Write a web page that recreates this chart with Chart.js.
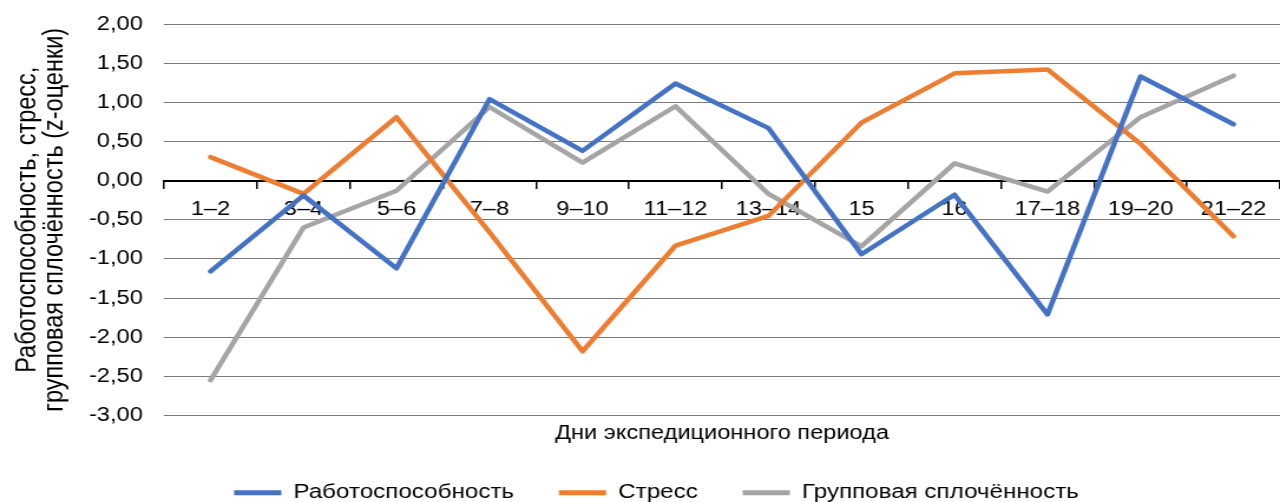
<!DOCTYPE html>
<html>
<head>
<meta charset="utf-8">
<script src="https://cdn.jsdelivr.net/npm/chart.js@4"></script>
<style>
  html, body { margin: 0; padding: 0; background: #fff; overflow: hidden; }
  #wrap { width: 1280px; height: 502px; overflow: hidden; }
</style>
</head>
<body>
<div id="wrap">
  <!-- the drawing surface is widened on screen to the page width -->
  <canvas id="c" width="1085" height="513" style="display:block;width:1280px;height:513px"></canvas>
</div>
<script>
// Expedition periods (days)
const categories = ['1–2', '3–4', '5–6', '7–8', '9–10', '11–12', '13–14', '15', '16', '17–18', '19–20', '21–22'];

// z-scores per period
const workCapacity = [-1.16, -0.19, -1.12, 1.04, 0.38, 1.24, 0.67, -0.94, -0.18, -1.71, 1.33, 0.72];
const stress       = [0.30, -0.17, 0.81, -0.66, -2.18, -0.83, -0.45, 0.74, 1.37, 1.42, 0.47, -0.71];
const cohesion     = [-2.55, -0.60, -0.13, 0.94, 0.23, 0.95, -0.17, -0.84, 0.22, -0.14, 0.81, 1.34];

const seriesNames = ['Работоспособность', 'Стресс', 'Групповая сплочённость'];
const seriesColors = ['#4472C4', '#ED7D31', '#A5A5A5'];

// value axis range and step
const yMin = -3;
const yMax = 2;
const yStep = 0.5;

const yTitle = ['Работоспособность, стресс,', 'групповая сплочённость (z-оценки)'];
const xTitle = 'Дни экспедиционного периода';

Chart.defaults.font.family = "'Liberation Sans', Arial, sans-serif";
Chart.defaults.font.size = 20;
Chart.defaults.color = '#000';

const seriesValues = [workCapacity, stress, cohesion];

// left margin of the page; the value axis fills the rest up to the plot
const leftMargin = 28;
const plotLeft = 139;

new Chart(document.getElementById('c'), {
  type: 'line',
  data: {
    labels: categories,
    datasets: seriesValues.map((vals, i) => ({
      label: seriesNames[i],
      data: vals,
      borderColor: seriesColors[i],
      backgroundColor: seriesColors[i],
      pointBorderColor: seriesColors[i],
      pointBackgroundColor: seriesColors[i]
    }))
  },
  options: {
    responsive: false,
    animation: false,
    devicePixelRatio: 1,
    layout: { padding: { top: 24, right: 0, bottom: 0, left: leftMargin } },
    elements: {
      line: { borderWidth: 4.5, tension: 0, borderJoinStyle: 'round', borderCapStyle: 'round' },
      point: { radius: 0, hoverRadius: 0, hitRadius: 0, borderWidth: 5 }
    },
    plugins: {
      legend: {
        position: 'bottom',
        labels: {
          usePointStyle: true,
          pointStyle: 'line',
          pointStyleWidth: 40,
          padding: 38,
          color: '#000',
          font: { size: 20.5 }
        }
      },
      tooltip: { enabled: false }
    },
    scales: {
      y: {
        min: yMin,
        max: yMax,
        ticks: {
          stepSize: yStep,
          padding: 6,
          callback: v => v.toFixed(2).replace('.', ',')
        },
        grid: {
          color: '#7a7a7a',
          lineWidth: 1,
          drawTicks: true,
          tickLength: 12,
          tickColor: 'rgba(0,0,0,0)'
        },
        border: { display: false },
        title: {
          display: true,
          text: yTitle,
          font: { size: 23.5, lineHeight: '23px' },
          padding: { top: 12 - leftMargin, bottom: 0 }
        },
        afterFit(scale) { scale.width = plotLeft - leftMargin; }
      },
      x: {
        position: { y: 0 },
        offset: true,
        grid: {
          offset: true,
          drawOnChartArea: false,
          drawTicks: true,
          tickLength: 7,
          color: '#000',
          lineWidth: 1.5
        },
        border: { color: '#000', width: 2 },
        ticks: { padding: 10, maxRotation: 0, autoSkip: false }
      },
      x2: {
        type: 'category',
        position: 'bottom',
        labels: categories,
        grid: { display: false, drawTicks: false },
        border: { display: false },
        ticks: { display: false },
        title: {
          display: true,
          text: xTitle,
          font: { size: 20, lineHeight: '23px' },
          padding: { top: 6, bottom: 0 }
        }
      }
    }
  }
});
</script>
</body>
</html>
